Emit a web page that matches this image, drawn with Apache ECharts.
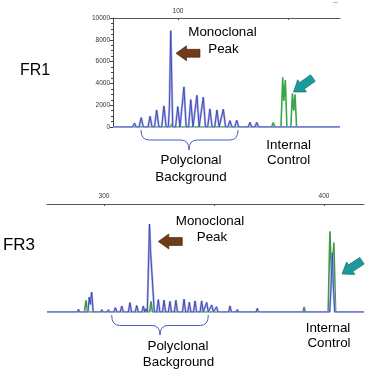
<!DOCTYPE html>
<html><head><meta charset="utf-8">
<script src="https://cdn.jsdelivr.net/npm/echarts@6/dist/echarts.min.js"></script>
<style>html,body{margin:0;padding:0;background:#fff}#c{width:368px;height:374px}</style>
</head><body><div id="c"></div><script>
// ---- data (size in bp, signal in RFU) ----
const fr1XRange = [70.45, 173.64];
const fr3XRange = [274.1, 418.2];
const fr1TickValues = [100, 150];
const fr1LabelValues = [100];
const fr3TickValues = [300, 350, 400];
const fr3LabelValues = [300, 400];
const signalTicks = [0, 2000, 4000, 6000, 8000, 10000];

const fr1Blue = [
  [70.45,0],[70.5,0],[71.2,180],[72,0],[73.4,0],[74.2,180],[75,0],
  [79.4,0],[80.2,340],[81,0],[82.3,0],[83.3,860],[84.2,0],
  [86.4,0],[87.3,980],[88.2,0],[89.3,0],[90.3,1560],[91.3,0],
  [92.6,0],[93.6,1930],[94.6,0],[95.6,0],[96.1,1900],[96.7,8830],[97.6,0],
  [98.9,0],[99.9,1870],[100.9,0],[101.7,0],[102.7,3680],[103.7,0],
  [104.8,0],[105.8,2510],[106.8,0],[107.6,0],[108.6,2910],[109.6,0],
  [110.5,0],[111.5,2730],[112.5,0],[113.5,0],[114.5,1660],[115.5,0],
  [116.7,0],[117.7,1560],[118.7,0],[119.6,0],[120.6,1630],[121.6,0],
  [122.7,0],[123.6,580],[124.5,0],[125.8,0],[126.7,610],[127.6,0],
  [131.9,0],[132.7,430],[133.5,0],[135,0],[135.8,430],[136.6,0],
  [139.6,0],[140.3,120],[141,0],[173.64,0]
];
const fr1Green = [
  [70.45,0],[96.7,0],[97.1,300],[97.5,0],[142.5,0],[143.3,400],[144.1,0],
  [146.8,0],[147.6,4560],[148.1,2400],[148.8,4310],[149.5,0],
  [151.3,0],[152.0,3090],[152.6,1500],[153.2,3000],[153.9,0],[173.64,0]
];
const fr3Blue = [
  [274.1,0],[288.0,0],[288.4,250],[288.8,0],
  [292.7,0],[293.3,1390],[293.8,700],[294.4,1850],[295.1,0],
  [298.5,0],[299,200],[299.5,0],[301.5,0],[302,200],[302.5,0],
  [304.5,0],[305.2,400],[305.9,0],[307.4,0],[308.1,550],[308.8,0],
  [311.1,0],[311.8,870],[312.5,0],[314.2,0],[314.9,600],[315.6,0],
  [317.3,0],[317.9,560],[318.5,0],[319.1,300],[319.7,0],
  [320.1,0],[320.7,8150],[321.2,5500],[321.9,5400],[322.9,0],
  [324,0],[324.7,1150],[325.4,0],[326.6,0],[327.3,1100],[328,0],
  [329.3,0],[330,990],[330.7,0],[332,0],[332.7,1080],[333.4,0],
  [335.7,0],[336.4,1180],[337.1,0],[338.1,0],[338.8,900],[339.5,0],
  [340.7,0],[341.4,1030],[342.1,0],[343.7,0],[344.4,1030],[345.1,0],
  [346,0],[346.7,880],[347.4,0],[348.3,0],[349,650],[349.7,0],
  [350.6,0],[351.2,480],[351.8,0],[356.7,0],[357.3,560],[357.9,0],
  [360.1,0],[360.6,220],[361.1,0],[365.2,0],[365.6,150],[366,0],
  [369.2,0],[369.7,330],[370.2,0],[372,0],[372.4,180],[372.8,0],
  [380.4,0],[380.8,150],[381.2,0],[385.6,0],[386,120],[386.4,0],
  [402.6,0],[403.2,2300],[403.8,5480],[404.3,2300],[404.9,0],[418.2,0]
];
const fr3Green = [
  [274.1,0],[291.1,0],[291.8,1080],[292.5,0],[320.8,0],[321.4,990],[322,0],
  [390.5,0],[391,460],[391.5,0],[401.9,0],[402.7,7480],[403.5,3000],[404.5,6430],[405.3,0],[418.2,0]
];

// ---- drawing ----
const FONT = '"Liberation Sans", Arial, sans-serif';
const chart = echarts.init(document.getElementById('c'), null, {renderer: 'canvas'});

function trace(data, xi, color, width, z) {
  return {type: 'line', xAxisIndex: xi, yAxisIndex: xi, data: data, symbol: 'none',
    lineStyle: {color: color, width: width}, z: z, silent: true, animation: false};
}
function arrow(tip, dir, color, stroke) {
  const len = Math.hypot(dir[0], dir[1]);
  const d = [dir[0]/len, dir[1]/len], n = [d[1], -d[0]];
  const p = (a, b) => [tip[0] - d[0]*a + n[0]*b, tip[1] - d[1]*a + n[1]*b];
  return {type: 'polygon', shape: {points: [tip, p(10.5,7.5), p(10.5,4), p(24,4), p(24,-4), p(10.5,-4), p(10.5,-7.5)]},
    style: {fill: color, stroke: stroke, lineWidth: 0.6}, z: 10};
}
function txt(s, x, y, size) {
  return {type: 'text', z: 10, style: {text: s, x: x, y: y, fontSize: size, fontFamily: FONT, fill: '#000',
    align: 'center', verticalAlign: 'middle', textAlign: 'center', textVerticalAlign: 'middle'}};
}
function brace(x1, x2, xm, y0, y1, y2, color) {
  const r = 8;
  const st = {stroke: color, lineWidth: 1, fill: null};
  const q = (a, b, c) => ({type: 'bezierCurve', shape: {x1: a[0], y1: a[1], cpx1: b[0], cpy1: b[1], x2: c[0], y2: c[1]}, style: st, z: 10});
  const l = (a, b) => ({type: 'line', shape: {x1: a[0], y1: a[1], x2: b[0], y2: b[1]}, style: st, z: 10});
  return [
    q([x1, y0], [x1, y1], [x1 + r, y1]), l([x1 + r, y1], [xm - r, y1]),
    q([xm - r, y1], [xm, y1], [xm, y2]), q([xm, y2], [xm, y1], [xm + r, y1]),
    l([xm + r, y1], [x2 - r, y1]), q([x2 - r, y1], [x2, y1], [x2, y0])
  ];
}

const axisLblStyle = {fontSize: 6.5, color: '#333', fontFamily: FONT, formatter: v => String(v)};

chart.setOption({
  animation: false,
  grid: [
    {left: 113, top: 18, width: 227, height: 109},
    {left: 47, top: 204, width: 317, height: 108}
  ],
  xAxis: [
    {gridIndex: 0, type: 'value', position: 'top', min: fr1XRange[0], max: fr1XRange[1],
      axisLine: {show: true, onZero: false, lineStyle: {color: '#555', width: 1}},
      axisTick: {show: true, inside: true, length: 2, customValues: fr1TickValues, lineStyle: {color: '#555'}},
      axisLabel: {show: true, margin: 3, customValues: fr1LabelValues, ...axisLblStyle},
      splitLine: {show: false}},
    {gridIndex: 1, type: 'value', position: 'top', min: fr3XRange[0], max: fr3XRange[1],
      axisLine: {show: true, onZero: false, lineStyle: {color: '#555', width: 1}},
      axisTick: {show: true, inside: true, length: 2, customValues: fr3TickValues, lineStyle: {color: '#555'}},
      axisLabel: {show: true, margin: 4, customValues: fr3LabelValues, ...axisLblStyle},
      splitLine: {show: false}}
  ],
  yAxis: [
    {gridIndex: 0, type: 'value', min: signalTicks[0], max: signalTicks[signalTicks.length-1], interval: 2000,
      axisLine: {show: true, lineStyle: {color: '#444', width: 1}},
      axisTick: {show: true, length: 3, lineStyle: {color: '#444'}},
      minorTick: {show: true, splitNumber: 4, length: 2, lineStyle: {color: '#444'}},
      axisLabel: {margin: 3, ...axisLblStyle},
      splitLine: {show: false}},
    {gridIndex: 1, type: 'value', min: 0, max: 10000, show: false, splitLine: {show: false}}
  ],
  series: [
    trace(fr1Green, 0, '#37a845', 1.6, 2),
    trace(fr1Blue, 0, '#aeb2e8', 2.2, 3),
    trace(fr1Blue, 0, '#3544ae', 0.9, 4),
    trace(fr3Green, 1, '#3a9a48', 1.6, 2),
    trace(fr3Blue, 1, '#aeb2e8', 2.2, 3),
    trace(fr3Blue, 1, '#3544ae', 0.9, 4)
  ],
  graphic: [
    txt('FR1', 35, 71, 16),
    txt('FR3', 19, 245, 17),
    txt('Monoclonal', 222.5, 32, 13.4),
    txt('Peak', 223.5, 49, 13.4),
    txt('Monoclonal', 210, 221, 13.4),
    txt('Peak', 212, 237.5, 13.4),
    txt('Polyclonal', 191, 160, 13.4),
    txt('Background', 191, 177.7, 13.4),
    txt('Internal', 288.7, 145.7, 13.4),
    txt('Control', 288.7, 160.7, 13.4),
    txt('Polyclonal', 178, 346.7, 13.4),
    txt('Background', 178.5, 362.3, 13.4),
    txt('Internal', 328, 328.3, 13.4),
    txt('Control', 329, 343.3, 13.4),
    arrow([176, 53.3], [-1, 0], '#6e3c18', '#3a1f08'),
    arrow([158.3, 241.5], [-1, 0], '#6e3c18', '#3a1f08'),
    arrow([293.5, 92], [-21.7, 15.7], '#1a9c9c', '#0d5c5c'),
    arrow([342, 274], [-23, 15.3], '#1a9c9c', '#0d5c5c'),
    ...brace(141, 238, 189, 130, 140, 150, '#4a5cc0'),
    ...brace(111.7, 208.3, 160, 315, 325.5, 335, '#4a5cc0'),
    {type: 'line', shape: {x1: 333, y1: 2.5, x2: 338, y2: 2.5}, style: {stroke: '#bbb', lineWidth: 1}}
  ]
});
</script></body></html>
